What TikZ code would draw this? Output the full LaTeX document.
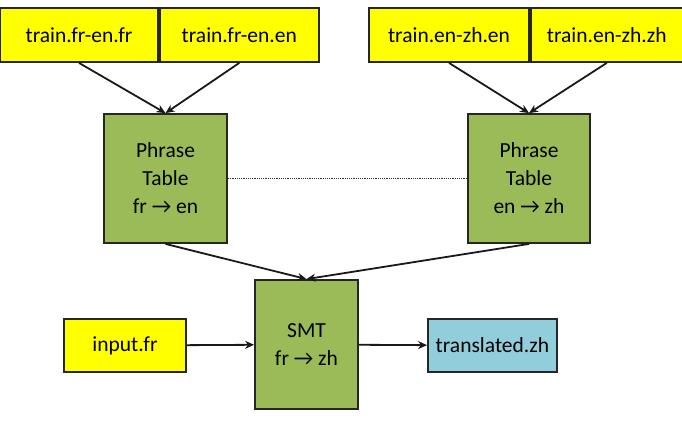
\documentclass[tikz,border=0pt]{standalone}
\usepackage{fontspec}
\setmainfont{Carlito}
\usepackage{tikz}
\usetikzlibrary{positioning,arrows.meta}

\definecolor{fileyellow}{HTML}{FFFF00}
\definecolor{smtgreen}{HTML}{9BBB59}
\definecolor{outblue}{HTML}{92CDDC}

\begin{document}
\begin{tikzpicture}[x=1pt, y=-1pt, font=\fontsize{21.5}{28}\selectfont,
  box/.style={draw=black!85, line width=1.8pt, align=center, inner sep=2pt},
  file/.style={box, fill=fileyellow, minimum height=54pt},
  model/.style={box, fill=smtgreen, minimum height=129pt},
  result/.style={box, fill=outblue, minimum height=53pt},
  arr/.style={-{Stealth[length=9pt,width=8pt]}, line width=1.8pt, black!90}]
\useasboundingbox (0,0) rectangle (682,426);
% training corpora
\node[file, minimum width=158pt] (trfr) at (79,35) {train.fr-en.fr};
\node[file, minimum width=159pt, right=0pt of trfr] (tren) {train.fr-en.en};
\node[file, minimum width=160pt] (tezen) at (449,35) {train.en-zh.en};
\node[file, minimum width=152pt, right=0pt of tezen] (tezzh) {train.en-zh.zh};
% phrase tables
\node[model, minimum width=123pt] (ptfe) at (165.5,178.5) {Phrase\\Table\\fr → en};
\node[model, minimum width=122pt] (ptez) at (529,178.5) {Phrase\\Table\\en → zh};
% pivot system
\node[model, minimum width=103pt] (smt) at (306.5,344.5) {SMT\\fr → zh};
\node[file, minimum width=122pt, minimum height=53pt] (inp) at (125,345.5) {input.fr};
\node[result, minimum width=129pt] (outzh) at (492.5,345.5) {translated.zh};
\draw[arr] (trfr.south) -- (ptfe.north);
\draw[arr] (tren.south) -- (ptfe.north);
\draw[arr] (tezen.south) -- (ptez.north);
\draw[arr] (tezzh.south) -- (ptez.north);
\draw[densely dotted, line width=1.2pt, black!80] (ptfe.east) -- (ptez.west);
\draw[arr] (ptfe.south) -- (smt.north);
\draw[arr] (ptez.south) -- (smt.north);
\draw[arr] (inp) -- (smt);
\draw[arr] (smt) -- (outzh);
\end{tikzpicture}
\end{document}
